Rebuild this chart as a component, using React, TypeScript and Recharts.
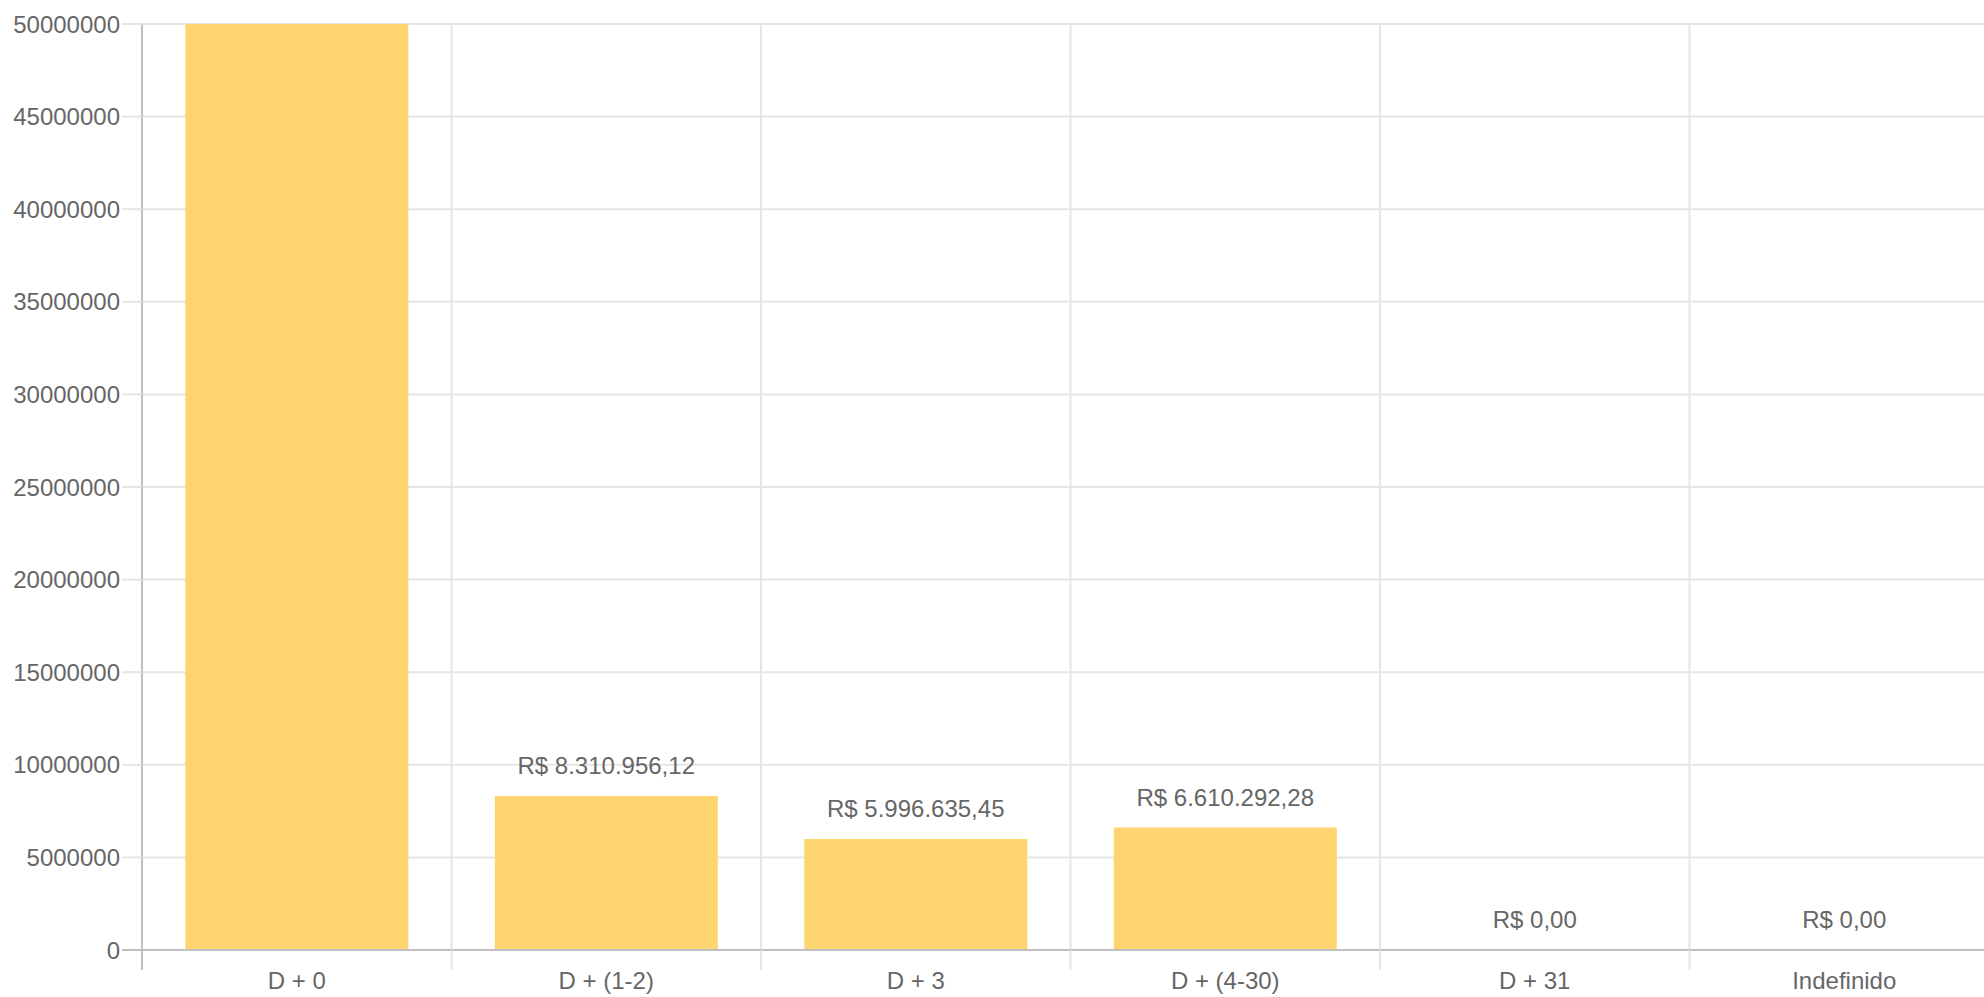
import React from "react";
import { ComposedChart, Bar, Line, XAxis, YAxis, CartesianGrid, LabelList } from "recharts";

// categories and values (R$)
const prazos = ["D + 0", "D + (1-2)", "D + 3", "D + (4-30)", "D + 31", "Indefinido"];
// first bar runs past the top of the axis, its label is cut off -> estimated
const valores = [60000000, 8310956.12, 5996635.45, 6610292.28, 0, 0];
const yTicks = [0, 5000000, 10000000, 15000000, 20000000, 25000000, 30000000, 35000000, 40000000, 45000000, 50000000];
const Y_MAX = 50000000;

const data = prazos.map((prazo, i) => ({ prazo, valor: valores[i] }));

const FONT = "'Liberation Sans', Arial, Helvetica, sans-serif";
const TEXT = "#666666";
const GRID = "#e5e5e5";
const AXIS = "#c0c0c0";

const formatBRL = (v: number) => {
    const [int, dec] = Math.abs(v).toFixed(2).split(".");
    const withDots = int.replace(/\B(?=(\d{3})+(?!\d))/g, ".");
    return `R$ ${withDots},${dec}`;
};

const YTick = (props: any) => {
    const { x, y, payload } = props;
    const zero = payload.value === 0;
    return (
        <g>
            <line x1={x - 20} x2={x} y1={y} y2={y} stroke={zero ? AXIS : GRID} strokeWidth={2} />
            <text x={x - 22} y={y} dy="0.355em" textAnchor="end" fill={TEXT} fontSize={24} fontFamily={FONT}>
                {payload.value}
            </text>
        </g>
    );
};

const XTick = (props: any) => {
    const { x, y, payload } = props;
    const half = payload.offset || 154.75;
    return (
        <g>
            <line x1={x - half} x2={x - half} y1={y} y2={y + 20} stroke={payload.index === 0 ? AXIS : GRID} strokeWidth={2} />
            <text x={x} y={y + 22} dy="0.71em" textAnchor="middle" fill={TEXT} fontSize={24} fontFamily={FONT}>
                {payload.value}
            </text>
        </g>
    );
};

// value label above each bar; values above the axis max are cut off in the original
const ValueLabel = (props: any) => {
    const { x, y, value } = props;
    if (value == null || Number(value) > Y_MAX) return null;
    return (
        <text x={x} y={y - 22} textAnchor="middle" fill={TEXT} fontSize={24} fontFamily={FONT}>
            {formatBRL(Number(value))}
        </text>
    );
};

export default function App() {
    return (
        <div style={{ position: "absolute", left: 0, top: 0, width: 1984, height: 997, overflow: "hidden", background: "#fff" }}>
            <ComposedChart
                width={2000}
                height={997}
                data={data}
                margin={{ top: 24, right: 1, left: 0, bottom: 0 }}
                barCategoryGap="14%"
            >
                <CartesianGrid
                    stroke={GRID}
                    strokeWidth={2}
                    verticalCoordinatesGenerator={({ offset }: any) =>
                        prazos.map((_, i) => offset.left + ((i + 1) * offset.width) / prazos.length)
                    }
                />
                <XAxis
                    dataKey="prazo"
                    height={47}
                    tickSize={0}
                    tickMargin={0}
                    tickLine={false}
                    axisLine={{ stroke: AXIS, strokeWidth: 2 }}
                    tick={<XTick />}
                    interval={0}
                />
                <YAxis
                    width={142}
                    domain={[0, Y_MAX]}
                    ticks={yTicks}
                    allowDataOverflow
                    tickSize={0}
                    tickMargin={0}
                    tickLine={false}
                    axisLine={{ stroke: AXIS, strokeWidth: 2 }}
                    tick={<YTick />}
                    interval={0}
                />
                <Bar dataKey="valor" fill="#fdd470" isAnimationActive={false} />
                {/* invisible line, only carries the value labels (incl. the R$ 0,00 ones) */}
                <Line
                    dataKey="valor"
                    stroke="none"
                    dot={false}
                    activeDot={false}
                    legendType="none"
                    isAnimationActive={false}
                >
                    <LabelList dataKey="valor" content={<ValueLabel />} />
                </Line>
            </ComposedChart>
        </div>
    );
}
